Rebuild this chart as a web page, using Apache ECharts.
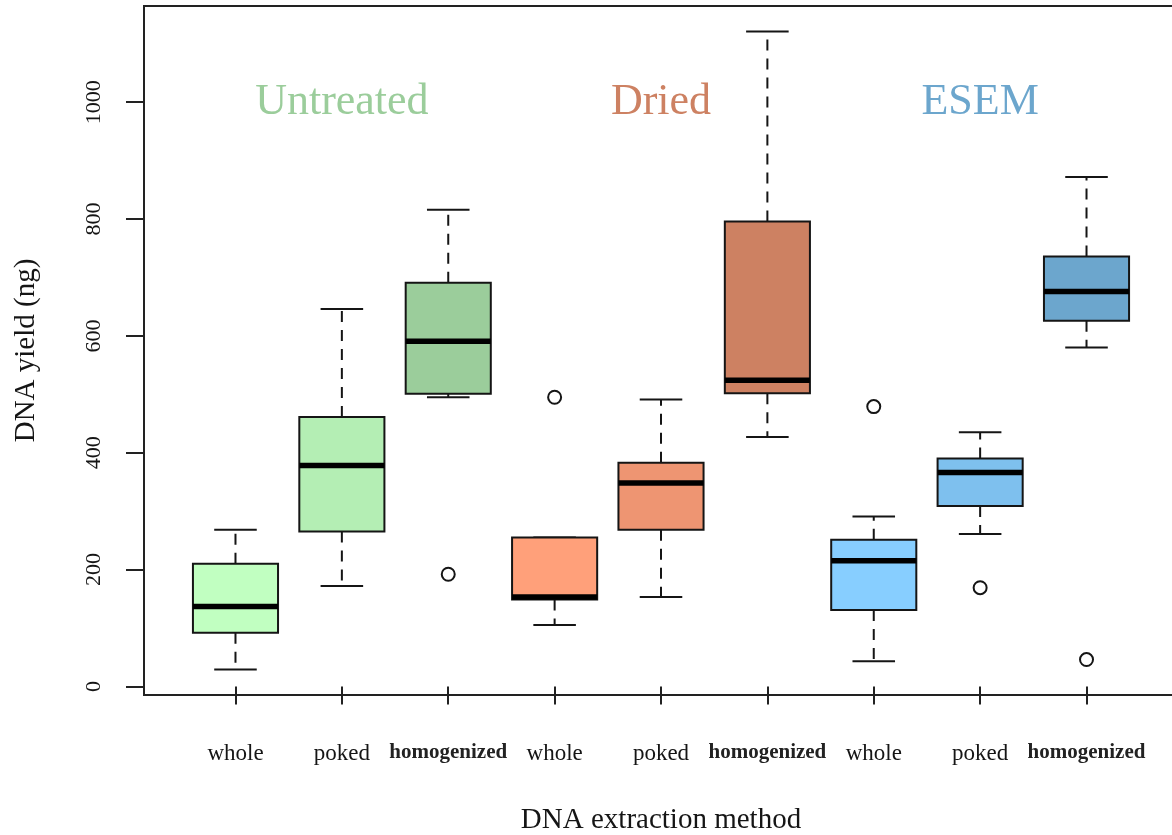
<!DOCTYPE html>
<html>
<head>
<meta charset="utf-8">
<script src="https://cdn.jsdelivr.net/npm/echarts@6/dist/echarts.min.js"></script>
<style>
html,body{margin:0;padding:0;background:#fff;}
#chart{width:1172px;height:835px;}
</style>
</head>
<body>
<div id="chart"></div>
<script>
// ---------------- data ----------------
const xLabels = ['whole','poked','homogenized','whole','poked','homogenized','whole','poked','homogenized'];
const xPositions = [1,2,3,4,5,6,7,8,9];
const yTicks = [0,200,400,600,800,1000];

const lowerWhisker = [29, 172, 495, 105, 153, 427, 43, 261, 580];
const q1          = [92, 265, 501, 149, 268, 502, 131, 309, 626];
const median      = [137, 378, 591, 153, 348, 524, 215, 366, 676];
const q3          = [210, 461, 691, 255, 383, 796, 251, 390, 736];
const upperWhisker= [268, 646, 816, 255, 491, 1121, 291, 435, 872];

const outlierX = [3, 4, 7, 8, 9];
const outlierY = [192, 495, 479, 169, 46];

const groupNames = ['Untreated','Dried','ESEM'];
const groupX = [2, 5, 8];
const groupY = [1000, 1000, 1000];

// ---------------- styles ----------------
const boxColors = ['#C1FFC1','#B4EEB4','#9BCD9B','#FFA07A','#EE9572','#CD8162','#87CEFF','#7EC0EE','#6CA6CD'];
const groupColors = ['#9BCD9B','#CD8162','#6CA6CD'];
const ink = '#151515';
const serif = '"Liberation Serif","DejaVu Serif",serif';

// R-like axis extension (4% on each side)
const allVals = lowerWhisker.concat(upperWhisker, outlierY);
const dMin = Math.min.apply(null, allVals), dMax = Math.max.apply(null, allVals);
const yMin = dMin - 0.04 * (dMax - dMin);
const yMax = dMax + 0.04 * (dMax - dMin);
const xMin = 0.5 - 0.04 * 9, xMax = 9.5 + 0.04 * 9;

const boxData = xPositions.map((x, i) => [x, lowerWhisker[i], q1[i], median[i], q3[i], upperWhisker[i]]);
const outlierData = outlierX.map((x, i) => [x, outlierY[i]]);
const titleData = groupNames.map((n, i) => ({ name: n, value: [groupX[i], groupY[i]],
  label: { color: groupColors[i] } }));

function renderBox(params, api) {
  const x = api.value(0);
  const lo = api.coord([x, api.value(1)]);
  const b1 = api.coord([x, api.value(2)]);
  const md = api.coord([x, api.value(3)]);
  const b3 = api.coord([x, api.value(4)]);
  const hi = api.coord([x, api.value(5)]);
  const halfBox = api.size([0.4, 0])[0];
  const halfCap = api.size([0.2, 0])[0];
  const cx = lo[0];
  const dash = { stroke: ink, lineWidth: 2, lineDash: [11, 8] };
  const solid = { stroke: ink, lineWidth: 2 };
  return {
    type: 'group',
    children: [
      { type: 'line', shape: { x1: cx, y1: b3[1], x2: cx, y2: hi[1] }, style: dash },
      { type: 'line', shape: { x1: cx, y1: b1[1], x2: cx, y2: lo[1] }, style: dash },
      { type: 'line', shape: { x1: cx - halfCap, y1: hi[1], x2: cx + halfCap, y2: hi[1] }, style: solid },
      { type: 'line', shape: { x1: cx - halfCap, y1: lo[1], x2: cx + halfCap, y2: lo[1] }, style: solid },
      { type: 'rect', shape: { x: cx - halfBox, y: b3[1], width: 2 * halfBox, height: b1[1] - b3[1] },
        style: { fill: boxColors[params.dataIndex], stroke: ink, lineWidth: 2 } },
      { type: 'line', shape: { x1: cx - halfBox, y1: md[1], x2: cx + halfBox, y2: md[1] },
        style: { stroke: '#000', lineWidth: 5.5 } }
    ]
  };
}

const chart = echarts.init(document.getElementById('chart'), null, { renderer: 'canvas' });
chart.setOption({
  animation: false,
  backgroundColor: '#fff',
  grid: {
    left: 144, top: 6, width: 1034, height: 689,
    show: true, borderColor: '#222', borderWidth: 2, backgroundColor: 'transparent',
    containLabel: false, outerBoundsMode: 'none'
  },
  xAxis: {
    type: 'value', min: xMin, max: xMax,
    splitLine: { show: false },
    axisLine: { show: false },
    axisTick: { show: true, customValues: xPositions, length: 18, lineStyle: { color: '#222', width: 2 } },
    axisLabel: {
      show: true, customValues: xPositions, margin: 47,
      formatter: v => {
        const lab = xLabels[xPositions.indexOf(Math.round(v))];
        return lab === 'homogenized' ? '{b|' + lab + '}' : '{n|' + lab + '}';
      },
      rich: {
        n: { fontFamily: serif, fontSize: 23, color: ink },
        b: { fontFamily: serif, fontSize: 21, fontWeight: 'bold', color: '#222' }
      }
    },
    name: 'DNA extraction method', nameLocation: 'middle', nameGap: 111,
    nameTextStyle: { fontFamily: serif, fontSize: 29, color: ink }
  },
  yAxis: {
    type: 'value', min: yMin, max: yMax,
    splitLine: { show: false },
    axisLine: { show: false },
    axisTick: { show: true, customValues: yTicks, length: 18, lineStyle: { color: '#222', width: 2 } },
    axisLabel: {
      show: true, customValues: yTicks, rotate: 90, margin: 39,
      formatter: v => String(Math.round(v)),
      fontFamily: serif, fontSize: 22, color: ink
    },
    name: 'DNA yield (ng)', nameLocation: 'middle', nameGap: 103, nameRotate: 90,
    nameTextStyle: { fontFamily: serif, fontSize: 29, color: ink }
  },
  series: [
    { type: 'custom', renderItem: renderBox, data: boxData,
      encode: { x: 0, y: [1, 2, 3, 4, 5] }, clip: false, z: 3 },
    { type: 'scatter', data: outlierData, symbol: 'circle', symbolSize: 13,
      itemStyle: { color: 'rgba(255,255,255,0)', borderColor: ink, borderWidth: 2, opacity: 1 }, z: 4 },
    { type: 'scatter', data: titleData, symbolSize: 0, silent: true,
      itemStyle: { opacity: 1 },
      label: { show: true, position: 'inside', formatter: '{b}', fontFamily: serif, fontSize: 44 }, z: 5 }
  ]
});
</script>
</body>
</html>
